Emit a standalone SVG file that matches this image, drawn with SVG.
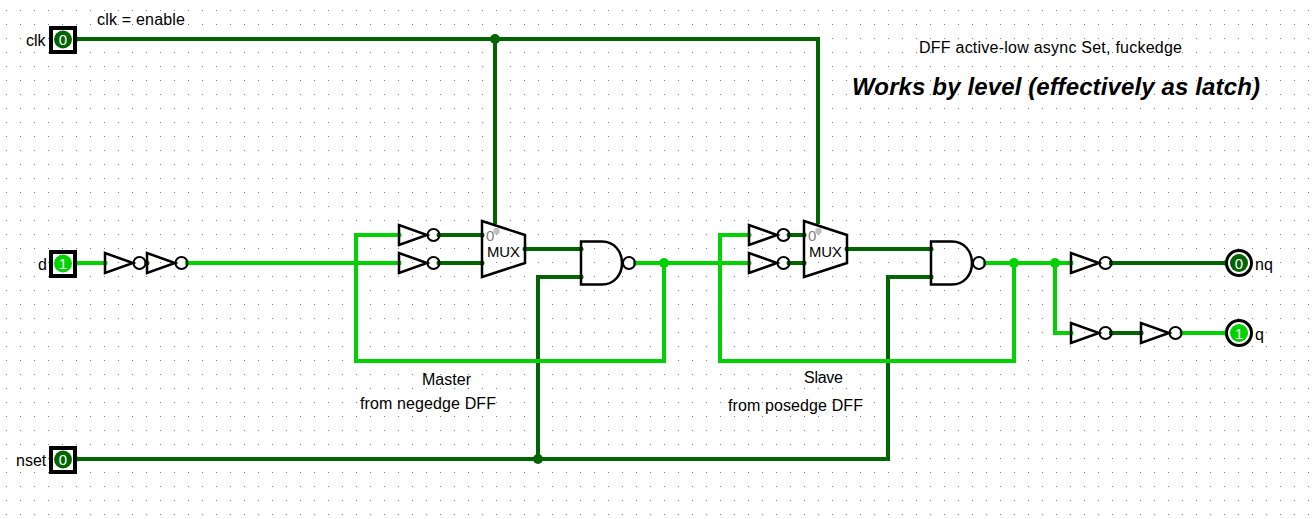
<svg xmlns="http://www.w3.org/2000/svg" width="1316" height="519" viewBox="0 0 1316 519">
<style>
text{font-family:"Liberation Sans",Arial,sans-serif;font-size:16px;fill:#000}
.big{font-size:24px;font-weight:bold;font-style:italic}
.val{fill:#fff;font-size:15px;text-anchor:middle}
.w{fill:none;stroke-width:4;stroke-linecap:square;stroke-linejoin:miter;shape-rendering:crispEdges}
.d{stroke:#006400}.l{stroke:#00d200}
.dd{fill:#006400}.ld{fill:#00d200}
.g{fill:none;stroke:#000;stroke-width:2.500}
.b{fill:none;stroke:#000;stroke-width:2}
.pin{fill:none;stroke:#000;stroke-width:4;shape-rendering:crispEdges}
.ring{fill:none;stroke:#000;stroke-width:3}
</style>
<defs>
<pattern id="grid" x="6" y="10" width="14" height="14" patternUnits="userSpaceOnUse"><rect width="1" height="1" fill="#808080"/></pattern>
<g id="inv"><path class="g" d="M0 -10V10L28 0Z"/><circle class="b" cx="34.500" cy="0" r="6"/></g>
<g id="nand"><path class="g" d="M0 -21.500H21C33 -21.500 41 -12 41 0C41 12 33 21.500 21 21.500H0Z"/><circle class="b" cx="48" cy="0" r="6"/></g>
<g id="mux"><path class="g" d="M0 0L43 14V42L0 56Z"/><text x="5" y="36" textLength="33" lengthAdjust="spacingAndGlyphs" style="font-size:14px">MUX</text><text x="4" y="20" style="font-size:15px;fill:#808080">0</text><circle cx="14.500" cy="10" r="3.200" fill="#c0c0c0"/></g>
<circle id="pd" r="2.500" fill="#006400"/>
<circle id="pl" r="2.500" fill="#00d200"/>
</defs>
<rect width="1316" height="519" fill="#fff"/>
<rect width="1316" height="519" fill="url(#grid)"/>
<g id="connectors">
<path class="w d" d="M77 39H818V222M495 39V222"/>
<path class="w d" d="M77 459H888V277H931M538 459V277H581"/>
<path class="w d" d="M439 235H482M439 263H482M525 249H581"/>
<path class="w d" d="M789 235H804M789 263H804M847 249H931"/>
<path class="w d" d="M1111 263H1225M1111 333H1141"/>
<path class="w l" d="M77 263H105"/>
<path class="w l" d="M187 263H399"/>
<path class="w l" d="M399 235H356V361H664V263M635 263H749"/>
<path class="w l" d="M749 235H720V361H1014V263M985 263H1071M1055 263V333H1071"/>
<path class="w l" d="M1182 333H1225"/>
<circle class="dd" cx="495" cy="39" r="5"/><circle class="dd" cx="538" cy="459" r="5"/>
<circle class="ld" cx="664" cy="263" r="5"/><circle class="ld" cx="1014" cy="263" r="5"/><circle class="ld" cx="1055" cy="263" r="5"/>
<use href="#pd" x="147" y="263"/><use href="#pd" x="77" y="39"/><use href="#pd" x="77" y="459"/><use href="#pl" x="77" y="263"/><use href="#pl" x="105" y="263"/><use href="#pl" x="188" y="263"/>
<use href="#pl" x="399" y="235"/><use href="#pl" x="399" y="263"/><use href="#pd" x="439" y="235"/><use href="#pd" x="439" y="263"/><use href="#pd" x="482" y="235"/><use href="#pd" x="482" y="263"/><use href="#pd" x="525" y="249"/><use href="#pd" x="581" y="249"/><use href="#pd" x="581" y="277"/><use href="#pl" x="636" y="263"/>
<use href="#pl" x="749" y="235"/><use href="#pl" x="749" y="263"/><use href="#pd" x="789" y="235"/><use href="#pd" x="789" y="263"/><use href="#pd" x="804" y="235"/><use href="#pd" x="804" y="263"/><use href="#pd" x="847" y="249"/><use href="#pd" x="931" y="249"/><use href="#pd" x="931" y="277"/><use href="#pl" x="986" y="263"/>
<use href="#pl" x="1071" y="263"/><use href="#pl" x="1071" y="333"/><use href="#pd" x="1112" y="263"/><use href="#pd" x="1112" y="333"/><use href="#pd" x="1141" y="333"/><use href="#pl" x="1182" y="333"/><use href="#pd" x="1225" y="263"/><use href="#pl" x="1225" y="333"/>
</g>
<g id="clk"><rect class="pin" x="51" y="28" width="24" height="24"/><circle class="dd" cx="63" cy="39.500" r="9"/><text class="val" x="63" y="45">0</text><text x="26" y="46">clk</text></g>
<g id="d"><rect class="pin" x="51" y="252" width="24" height="24"/><circle class="ld" cx="63" cy="263.500" r="9"/><text class="val" x="63" y="269">1</text><text x="38" y="270">d</text></g>
<g id="nset"><rect class="pin" x="51" y="448" width="24" height="24"/><circle class="dd" cx="63" cy="459.500" r="9"/><text class="val" x="63" y="465">0</text><text x="16" y="466">nset</text></g>
<g id="inv1"><use href="#inv" x="105" y="263"/></g>
<g id="inv2"><use href="#inv" x="147" y="263"/></g>
<g id="inv3"><use href="#inv" x="399" y="235"/></g>
<g id="inv4"><use href="#inv" x="399" y="263"/></g>
<g id="mux1"><use href="#mux" x="482" y="221"/></g>
<g id="nand1"><use href="#nand" x="581" y="263"/></g>
<g id="inv5"><use href="#inv" x="749" y="235"/></g>
<g id="inv6"><use href="#inv" x="749" y="263"/></g>
<g id="mux2"><use href="#mux" x="804" y="221"/></g>
<g id="nand2"><use href="#nand" x="931" y="263"/></g>
<g id="inv7"><use href="#inv" x="1071" y="263"/></g>
<g id="inv8"><use href="#inv" x="1071" y="333"/></g>
<g id="inv9"><use href="#inv" x="1141" y="333"/></g>
<g id="nq"><circle class="ring" cx="1239" cy="263" r="12.500"/><circle class="dd" cx="1239" cy="263" r="9"/><text class="val" x="1239" y="269">0</text><text x="1255" y="270">nq</text></g>
<g id="q"><circle class="ring" cx="1239" cy="333" r="12.500"/><circle class="ld" cx="1239" cy="333" r="9"/><text class="val" x="1239" y="339">1</text><text x="1255" y="340">q</text></g>
<g id="labels">
<text x="97" y="25" textLength="88">clk = enable</text>
<text x="919" y="53" textLength="263">DFF active-low async Set, fuckedge</text>
<text class="big" x="852" y="95" textLength="408">Works by level (effectively as latch)</text>
<text x="422" y="385" textLength="49">Master</text>
<text x="360" y="409" textLength="136">from negedge DFF</text>
<text x="804" y="383" textLength="39">Slave</text>
<text x="728" y="411" textLength="135">from posedge DFF</text>
</g>
</svg>
